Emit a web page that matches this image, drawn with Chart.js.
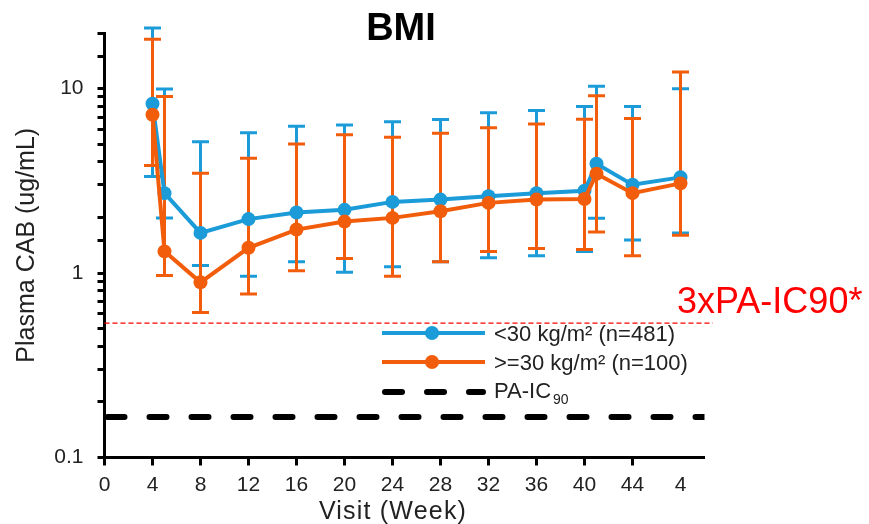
<!DOCTYPE html>
<html>
<head>
<meta charset="utf-8">
<script src="https://cdn.jsdelivr.net/npm/chart.js@4.4.1/dist/chart.umd.min.js"></script>
<style>
    html, body { margin: 0; padding: 0; background: #fff; }
    #wrap { width: 869px; height: 524px; }
</style>
</head>
<body>
<div id="wrap"><canvas id="bmiChart" width="869" height="524"></canvas></div>
<script>
// Visit weeks (x values)
const weeks = [4, 5, 8, 12, 16, 20, 24, 28, 32, 36, 40, 41, 44, 48];

// <30 kg/m2 group
const blueMean = [8.27, 2.71, 1.65, 1.96, 2.13, 2.2, 2.43, 2.5, 2.61, 2.71, 2.79, 3.91, 3.01, 3.3];
const blueHigh = [21.3, 9.95, 5.15, 5.76, 6.24, 6.34, 6.6, 6.8, 7.4, 7.6, 8.0, 10.3, 8.0, 9.97];
const blueLow = [3.34, 1.99, 1.1, 0.96, 1.15, 1.01, 1.08, 1.15, 1.21, 1.24, 1.31, 1.98, 1.51, 1.65];

// >=30 kg/m2 group
const orangeMean = [7.21, 1.31, 0.89, 1.37, 1.72, 1.9, 1.99, 2.16, 2.4, 2.5, 2.52, 3.45, 2.71, 3.06];
const orangeHigh = [18.5, 9.06, 3.47, 4.19, 5.0, 5.62, 5.44, 5.72, 6.13, 6.42, 6.81, 9.14, 6.89, 12.3];
const orangeLow = [3.83, 0.97, 0.61, 0.77, 1.03, 1.2, 0.96, 1.15, 1.31, 1.36, 1.34, 1.67, 1.24, 1.6];

// Reference thresholds
const paIC90 = 0.166;
const threePaIC90 = 0.535;

// Axis labels
const xTickLabels = ['0', '4', '8', '12', '16', '20', '24', '28', '32', '36', '40', '44', '4'];
const yTickLabels = { '0.1': '0.1', '1': '1', '10': '10' };

const blueColor = '#1b9bd8';
const orangeColor = '#f25d0c';
const textColor = '#222';
const fontFamily = '"Liberation Sans", Arial, sans-serif';

function toPoints(xs, ys) {
    return xs.map((x, i) => ({ x: x, y: ys[i] }));
}

// Error bars drawn under the lines, using the chart's own scales
const errorBarPlugin = {
    id: 'errorBars',
    beforeDatasetsDraw(chart) {
        const ctx = chart.ctx;
        const xs = chart.scales.x;
        const ys = chart.scales.y;
        const groups = [
            { low: blueLow, high: blueHigh, color: blueColor },
            { low: orangeLow, high: orangeHigh, color: orangeColor }
        ];
        ctx.save();
        ctx.lineWidth = 3;
        groups.forEach(g => {
            ctx.strokeStyle = g.color;
            weeks.forEach((w, i) => {
                const px = xs.getPixelForValue(w);
                const yLo = ys.getPixelForValue(g.low[i]);
                const yHi = ys.getPixelForValue(g.high[i]);
                ctx.beginPath();
                ctx.moveTo(px, yLo);
                ctx.lineTo(px, yHi);
                ctx.moveTo(px - 8.5, yLo);
                ctx.lineTo(px + 8.5, yLo);
                ctx.moveTo(px - 8.5, yHi);
                ctx.lineTo(px + 8.5, yHi);
                ctx.stroke();
            });
        });
        ctx.restore();
    }
};

// Title, axis title, threshold label and legend
const annotationPlugin = {
    id: 'annotations',
    afterDraw(chart) {
        const ctx = chart.ctx;
        ctx.save();

        ctx.fillStyle = '#000';
        ctx.font = 'bold 38px ' + fontFamily;
        ctx.textAlign = 'center';
        ctx.textBaseline = 'alphabetic';
        ctx.fillText('BMI', 401, 40);

        // x axis title (slightly spaced like the original)
        ctx.fillStyle = textColor;
        ctx.font = '25px ' + fontFamily;
        if ('letterSpacing' in ctx) ctx.letterSpacing = '1.2px';
        ctx.fillText('Visit (Week)', 393, 519);
        if ('letterSpacing' in ctx) ctx.letterSpacing = '0px';

        ctx.fillStyle = '#ff0000';
        ctx.font = '36px ' + fontFamily;
        ctx.textAlign = 'left';
        ctx.fillText('3xPA-IC90*', 677, 313);

        // legend rows
        const rows = [
            { y: 333, color: blueColor, text: '<30 kg/m² (n=481)', base: 341 },
            { y: 362, color: orangeColor, text: '>=30 kg/m² (n=100)', base: 370 }
        ];
        rows.forEach(r => {
            ctx.strokeStyle = r.color;
            ctx.lineWidth = 4;
            ctx.beginPath();
            ctx.moveTo(382, r.y);
            ctx.lineTo(485, r.y);
            ctx.stroke();
            ctx.fillStyle = r.color;
            ctx.beginPath();
            ctx.arc(432, r.y, 7, 0, Math.PI * 2);
            ctx.fill();
            ctx.fillStyle = textColor;
            ctx.font = '22px ' + fontFamily;
            ctx.fillText(r.text, 494, r.base);
        });

        ctx.strokeStyle = '#000';
        ctx.lineWidth = 6;
        ctx.lineCap = 'round';
        ctx.setLineDash([17, 25]);
        ctx.beginPath();
        ctx.moveTo(385, 392);
        ctx.lineTo(483, 392);
        ctx.stroke();
        ctx.setLineDash([]);

        ctx.fillStyle = textColor;
        ctx.font = '22px ' + fontFamily;
        ctx.fillText('PA-IC', 494, 398);
        const w = ctx.measureText('PA-IC').width;
        ctx.font = '14px ' + fontFamily;
        ctx.fillText('90', 494 + w + 2, 404);

        ctx.restore();
    }
};

const ctx = document.getElementById('bmiChart').getContext('2d');
new Chart(ctx, {
    type: 'line',
    data: {
        datasets: [
            {
                label: '>=30 kg/m² (n=100)',
                data: toPoints(weeks, orangeMean),
                borderColor: orangeColor,
                backgroundColor: orangeColor,
                borderWidth: 4,
                pointRadius: 7,
                pointBorderWidth: 0,
                tension: 0
            },
            {
                label: '<30 kg/m² (n=481)',
                data: toPoints(weeks, blueMean),
                borderColor: blueColor,
                backgroundColor: blueColor,
                borderWidth: 4,
                pointRadius: 7,
                pointBorderWidth: 0,
                tension: 0
            },
            {
                label: '3xPA-IC90',
                data: [{ x: 0, y: threePaIC90 }, { x: 50.7, y: threePaIC90 }],
                borderColor: '#ff0000',
                borderWidth: 1.4,
                borderDash: [5, 3],
                pointRadius: 0,
                clip: false
            },
            {
                label: 'PA-IC90',
                data: [{ x: 0, y: paIC90 }, { x: 50, y: paIC90 }],
                borderColor: '#000',
                borderWidth: 6,
                borderDash: [17, 25],
                borderDashOffset: -3,
                borderCapStyle: 'round',
                pointRadius: 0
            }
        ]
    },
    options: {
        responsive: false,
        animation: false,
        devicePixelRatio: 1,
        layout: { padding: { top: 33, right: 164.5, left: 0, bottom: 0 } },
        plugins: {
            legend: { display: false },
            title: { display: false },
            tooltip: { enabled: false }
        },
        scales: {
            x: {
                type: 'linear',
                position: 'bottom',
                min: 0,
                max: 50,
                afterFit: function (scale) { scale.height = 66.5; },
                grid: {
                    drawOnChartArea: false,
                    tickLength: 8,
                    tickWidth: 3,
                    tickColor: c => (c.tick && c.tick.value === 48 ? 'rgba(0,0,0,0)' : '#000')
                },
                border: { color: '#000', width: 3 },
                ticks: {
                    stepSize: 4,
                    includeBounds: false,
                    autoSkip: false,
                    maxRotation: 0,
                    padding: 7,
                    color: textColor,
                    font: { family: fontFamily, size: 21 },
                    callback: function (value, index) { return xTickLabels[index]; }
                },
                title: { display: false }
            },
            y: {
                type: 'logarithmic',
                min: 0.1,
                max: 20,
                afterFit: function (scale) { scale.width = 104.5; },
                grid: {
                    drawOnChartArea: false,
                    tickLength: 7,
                    tickWidth: 3,
                    tickColor: '#000'
                },
                border: { color: '#000', width: 3 },
                ticks: {
                    autoSkip: false,
                    padding: 14,
                    color: textColor,
                    font: { family: fontFamily, size: 21 },
                    callback: function (value) {
                        const key = String(Number(value.toPrecision(3)));
                        return yTickLabels[key] || '';
                    }
                },
                title: {
                    display: true,
                    text: 'Plasma CAB (ug/mL)',
                    color: textColor,
                    font: { family: fontFamily, size: 25 },
                    padding: { top: 12, bottom: 0 }
                }
            }
        }
    },
    plugins: [errorBarPlugin, annotationPlugin]
});
</script>
</body>
</html>
